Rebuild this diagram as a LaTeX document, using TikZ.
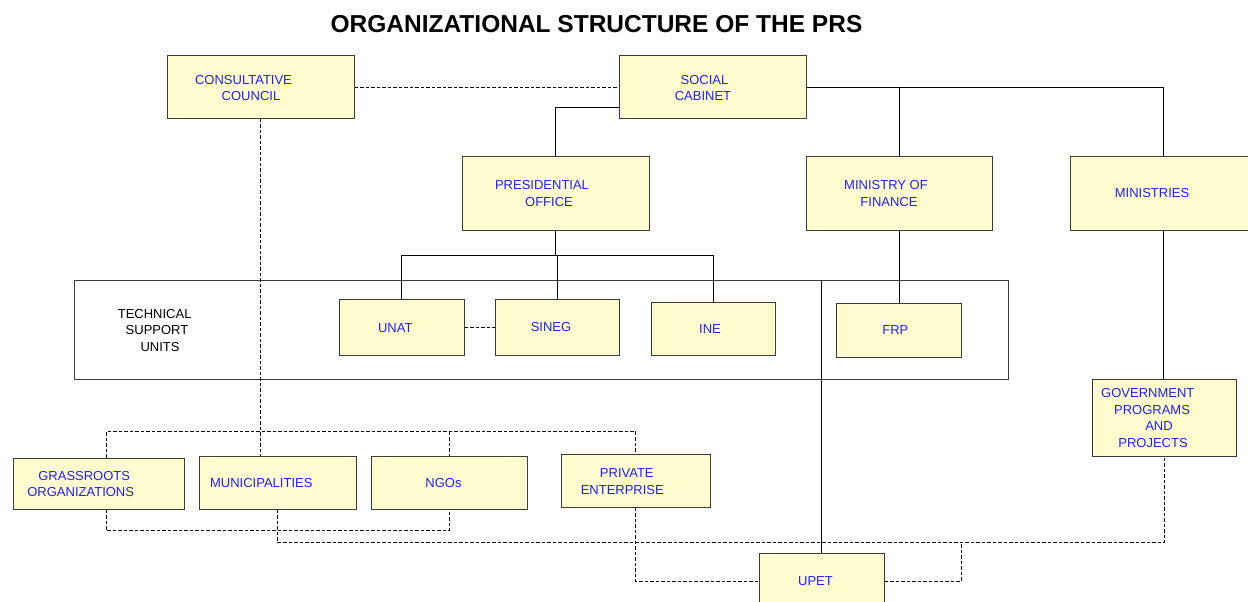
\documentclass[tikz,border=0pt]{standalone}
\usepackage{fontspec}
\setmainfont{Liberation Sans}
\definecolor{boxfill}{RGB}{255,253,208}
\definecolor{labblue}{RGB}{30,30,250}
\definecolor{edge}{RGB}{60,60,60}
\begin{document}
\begin{tikzpicture}[x=1pt,y=-1pt,
  box/.style={draw=edge, fill=boxfill, line width=1pt, inner sep=0pt},
  frame/.style={draw=edge, fill=white, line width=1pt, inner sep=0pt},
  conn/.style={draw=black, line width=0.8pt},
  dsh/.style={conn, dash pattern=on 3.5pt off 2pt},
  lab/.style={anchor=base, inner sep=0pt, font=\fontsize{13}{15}\selectfont, text=labblue},
  blab/.style={lab, text=black},
]
\useasboundingbox (0,0) rectangle (1248,602);
\fill[white] (0,0) rectangle (1248,602);

% title
\node[anchor=base, inner sep=0pt, font=\bfseries\fontsize{24.5}{28}\selectfont] (title) at (596.5,33) {ORGANIZATIONAL STRUCTURE OF THE PRS};

% technical support frame
\node[frame, minimum width=934pt, minimum height=99pt] (tsu) at (541,329.5) {};

% boxes
\node[box, minimum width=187pt, minimum height=62pt] (cc) at (260.5,87) {};
\node[box, minimum width=187pt, minimum height=62pt] (sc) at (712.5,87) {};
\node[box, minimum width=187pt, minimum height=74pt] (po) at (555.5,193) {};
\node[box, minimum width=186pt, minimum height=74pt] (mof) at (899,193) {};
\node[box, minimum width=187pt, minimum height=74pt] (min) at (1163.5,193) {};
\node[box, minimum width=125pt, minimum height=56pt] (unat) at (401.5,327) {};
\node[box, minimum width=124pt, minimum height=56pt] (sineg) at (557,327) {};
\node[box, minimum width=124pt, minimum height=53pt] (ine) at (713,328.5) {};
\node[box, minimum width=125pt, minimum height=54pt] (frp) at (898.5,330) {};
\node[box, minimum width=144pt, minimum height=77pt] (gpp) at (1164,417.5) {};
\node[box, minimum width=171pt, minimum height=51pt] (gro) at (98.5,483.5) {};
\node[box, minimum width=157pt, minimum height=53pt] (mun) at (277.5,482.5) {};
\node[box, minimum width=156pt, minimum height=53pt] (ngo) at (449,482.5) {};
\node[box, minimum width=149pt, minimum height=53pt] (pe) at (635.5,480.5) {};
\node[box, minimum width=125pt, minimum height=56pt] (upet) at (821.5,581) {};

% solid connectors
\draw[conn] (sc.east) -| (min.north);
\draw[conn] (mof.north |- sc.east) -- (mof.north);
\draw[conn] ([yshift=-20pt]sc.west) -| (po.north);
\draw[conn] (po.south) -- ++(0,25) coordinate (pj);
\draw[conn] (unat.north) |- (pj) -| (ine.north);
\draw[conn] (sineg.north |- pj) -- (sineg.north);
\draw[conn] (mof.south) -- (mof.south |- frp.north);
\draw[conn] (min.south) -- (min.south |- gpp.north);
\draw[conn] (upet.north |- tsu.north) -- (upet.north);

% dashed connectors
\draw[dsh] (cc.east) -- (sc.west);
\draw[dsh] (unat.east) -- (sineg.west);
\draw[dsh] (cc.south) -- (cc.south |- mun.north);
\draw[dsh] ([xshift=7.5pt]gro.north) -- ++(0,-26) coordinate (tb) -| (pe.north);
\draw[dsh] (ngo.north |- tb) -- (ngo.north);
\draw[dsh] ([xshift=7.5pt]gro.south) -- ++(0,21) -| (ngo.south);
\draw[dsh] (mun.south) -- ++(0,33) coordinate (bb) -| (gpp.south);
\draw[dsh] (pe.south) |- (upet.west);
\coordinate (j3) at (961,542);
\draw[dsh] (upet.east) -| (j3);

% labels
\node[lab] (cc1) at (243.5,79+5.5) {CONSULTATIVE};
\node[lab] (cc2) at (251,95+5.5) {COUNCIL};
\node[lab] (sc1) at (704.5,79+5.5) {SOCIAL};
\node[lab] (sc2) at (703,95+5.5) {CABINET};
\node[lab] (po1) at (542,184+5.5) {PRESIDENTIAL};
\node[lab] (po2) at (549,201+5.5) {OFFICE};
\node[lab] (mof1) at (886,184+5.5) {MINISTRY OF};
\node[lab] (mof2) at (889,201+5.5) {FINANCE};
\node[lab] (min1) at (1152,192+5.5) {MINISTRIES};
\node[blab] (tsu1) at (154.7,313+5.5) {TECHNICAL};
\node[blab] (tsu2) at (157,329.3+5.5) {SUPPORT};
\node[blab] (tsu3) at (160,346.3+5.5) {UNITS};
\node[lab] (unat1) at (395.3,326.7+5.5) {UNAT};
\node[lab] (sineg1) at (551,326+5.5) {SINEG};
\node[lab] (ine1) at (710,328.3+5.5) {INE};
\node[lab] (frp1) at (895.3,329+5.5) {FRP};
\node[lab] (gpp1) at (1147.8,392.3+5.5) {GOVERNMENT};
\node[lab] (gpp2) at (1152,409.3+5.5) {PROGRAMS};
\node[lab] (gpp3) at (1159,425.3+5.5) {AND};
\node[lab] (gpp4) at (1153,442+5.5) {PROJECTS};
\node[lab] (gro1) at (84.2,475+5.5) {GRASSROOTS};
\node[lab] (gro2) at (80.7,491+5.5) {ORGANIZATIONS};
\node[lab] (mun1) at (261.3,482.3+5.5) {MUNICIPALITIES};
\node[lab] (ngo1) at (443.5,482.3+5.5) {NGOs};
\node[lab] (pe1) at (626.8,472.3+5.5) {PRIVATE};
\node[lab] (pe2) at (622.3,489.3+5.5) {ENTERPRISE};
\node[lab] (upet1) at (815.5,580+5.5) {UPET};
\end{tikzpicture}
\end{document}
